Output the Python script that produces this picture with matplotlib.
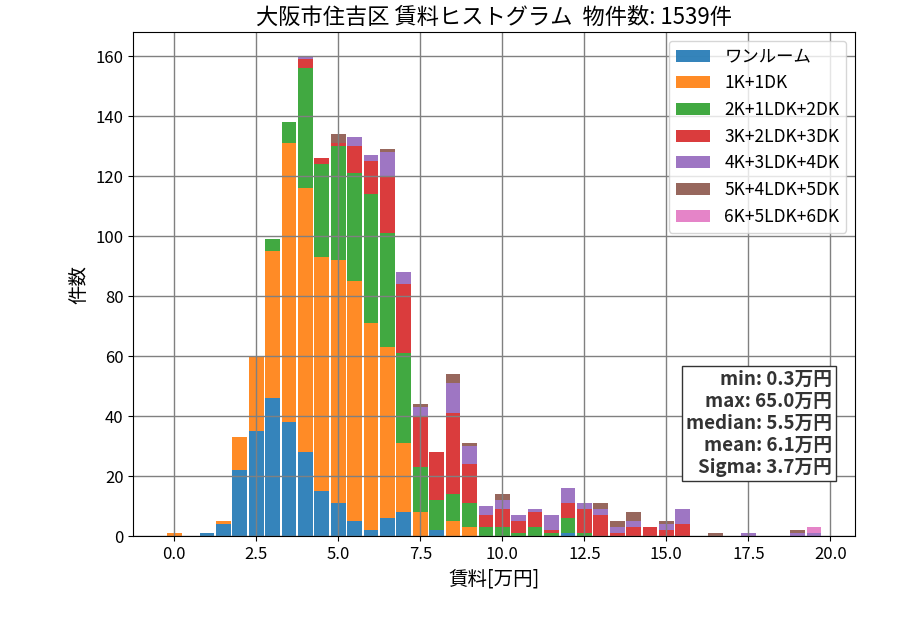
import numpy as np
import matplotlib
matplotlib.use("Agg")
import matplotlib.pyplot as plt

plt.rcParams['font.family'] = ['Noto Sans CJK JP', 'DejaVu Sans']

# bin centers (万円), 0.5 step
bin_centers = np.arange(0, 20, 0.5)

labels = ['ワンルーム', '1K+1DK', '2K+1LDK+2DK', '3K+2LDK+3DK',
          '4K+3LDK+4DK', '5K+4LDK+5DK', '6K+5LDK+6DK']

one_room = [0, 0, 1, 4, 22, 35, 46, 38, 28, 15, 11, 5, 2, 6, 8, 0, 2, 0, 0, 0,
            0, 0, 0, 0, 1, 0, 0, 0, 0, 0, 0, 0, 0, 0, 0, 0, 0, 0, 0, 0]
k1 = [1, 0, 0, 1, 11, 25, 49, 93, 88, 78, 81, 80, 69, 57, 23, 8, 0, 5, 3, 0,
      0, 0, 0, 0, 0, 0, 0, 0, 0, 0, 0, 0, 0, 0, 0, 0, 0, 0, 0, 0]
k2 = [0, 0, 0, 0, 0, 0, 4, 7, 40, 31, 38, 36, 43, 38, 30, 15, 10, 9, 8, 3,
      3, 1, 3, 1, 5, 1, 0, 0, 0, 0, 0, 0, 0, 0, 0, 0, 0, 0, 0, 0]
k3 = [0, 0, 0, 0, 0, 0, 0, 0, 3, 2, 1, 9, 11, 19, 23, 17, 16, 27, 13, 4,
      6, 4, 5, 1, 5, 8, 7, 1, 3, 3, 2, 4, 0, 0, 0, 0, 0, 0, 0, 0]
k4 = [0, 0, 0, 0, 0, 0, 0, 0, 1, 0, 0, 3, 2, 8, 4, 3, 0, 10, 6, 3,
      3, 2, 1, 5, 5, 2, 2, 2, 2, 0, 2, 5, 0, 0, 0, 1, 0, 0, 1, 1]
k5 = [0, 0, 0, 0, 0, 0, 0, 0, 0, 0, 3, 0, 0, 1, 0, 1, 0, 3, 1, 0,
      2, 0, 0, 0, 0, 0, 2, 2, 3, 0, 1, 0, 0, 1, 0, 0, 0, 0, 1, 0]
k6 = [0, 0, 0, 0, 0, 0, 0, 0, 0, 0, 0, 0, 0, 0, 0, 0, 0, 0, 0, 0,
      0, 0, 0, 0, 0, 0, 0, 0, 0, 0, 0, 0, 0, 0, 0, 0, 0, 0, 0, 2]

series = [one_room, k1, k2, k3, k4, k5, k6]
colors = ['tab:blue', 'tab:orange', 'tab:green', 'tab:red',
          'tab:purple', 'tab:brown', 'tab:pink']

stats_text = "min: 0.3万円\nmax: 65.0万円\nmedian: 5.5万円\nmean: 6.1万円\nSigma: 3.7万円"

fig = plt.figure(figsize=(9, 6.3), dpi=100)
ax = fig.add_axes([0.148, 0.149, 0.802, 0.8])

bottom = np.zeros(len(bin_centers))
for vals, lab, col in zip(series, labels, colors):
    vals = np.array(vals)
    ax.bar(bin_centers, vals, width=0.45, bottom=bottom, color=col,
           alpha=0.9, label=lab)
    bottom += vals

ax.set_xlim(-1.25, 20.75)
ax.set_ylim(0, 168)
ax.grid(True, color='gray', linewidth=1)
ax.set_title("大阪市住吉区 賃料ヒストグラム  物件数: 1539件", fontsize=16)
ax.set_xlabel("賃料[万円]", fontsize=14)
ax.set_ylabel("件数", fontsize=14)
ax.tick_params(labelsize=12)
ax.legend(loc='upper right', fontsize=12.5)

ax.text(0.968, 0.118, stats_text, transform=ax.transAxes, ha='right',
        va='bottom', fontsize=13.5, fontweight='bold', color='#333333',
        bbox=dict(facecolor='white', edgecolor='#333333', pad=3))

fig.savefig("out.png", dpi=100)
